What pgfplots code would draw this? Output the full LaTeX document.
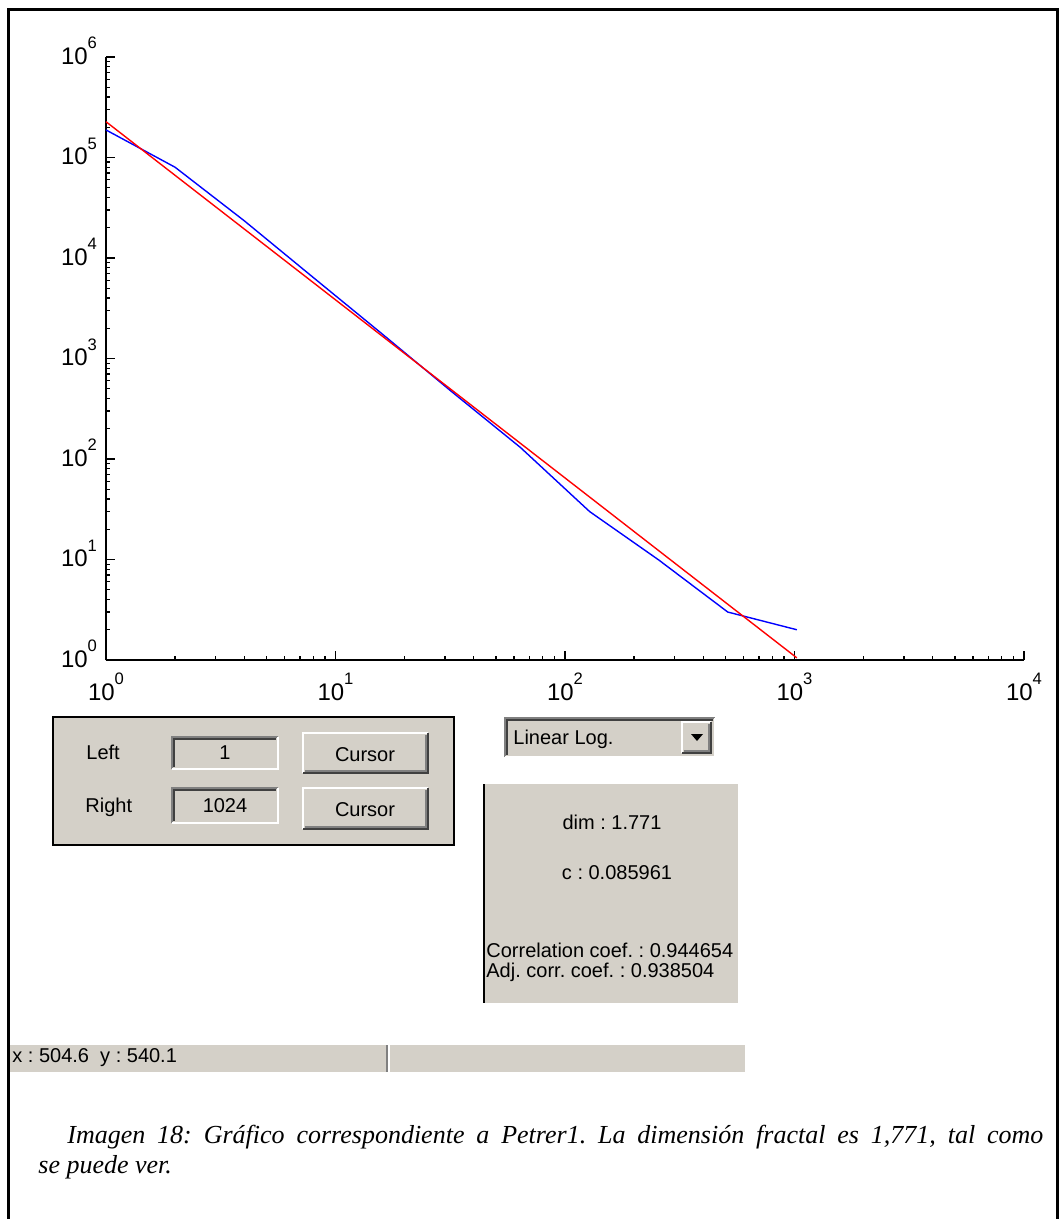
\documentclass[border=0pt]{standalone}
\usepackage{fontspec}
\setmainfont{Liberation Sans}
\newfontfamily\capfont{Liberation Serif}
\usepackage{pgfplots}
\pgfplotsset{compat=1.18}
\definecolor{guigray}{RGB}{212,208,200}
\definecolor{gdark}{RGB}{64,64,64}
\definecolor{gmid}{RGB}{128,128,128}
\newcommand{\gui}{\fontsize{10}{12}\selectfont}
\newcommand{\tp}[1]{10\raisebox{7.8pt}{\fontsize{8.3}{10}\selectfont #1}}
% sunken box x1 y1 x2 y2
\newcommand{\sunken}[4]{%
  \fill[guigray] (#1,#2) rectangle (#3,#4);
  \draw[line width=1pt, gmid] (#1,#4) -- (#1,#2) -- (#3,#2);
  \draw[line width=1pt, white] (#3,#2) -- (#3,#4) -- (#1,#4);
  \draw[line width=0.6pt, gdark] (#1+2,#4-2) -- (#1+2,#2+2) -- (#3-2,#2+2);
}
\newcommand{\raised}[4]{%
  \fill[guigray] (#1,#2) rectangle (#3,#4);
  \draw[line width=1pt, white] (#1,#4) -- (#1,#2) -- (#3,#2);
  \draw[line width=1pt, gdark] (#3,#2) -- (#3,#4) -- (#1,#4);
  \draw[line width=0.6pt, gmid] (#3-2,#2+2) -- (#3-2,#4-2) -- (#1+2,#4-2);
}
\begin{document}
\frenchspacing
\begin{tikzpicture}
\begin{scope}[x=0.5pt,y=-0.5pt]
\useasboundingbox (0,0) rectangle (1059,1219);
% outer frame
\draw[line width=1.5pt, black] (8,1225) -- (8,10) -- (1057,10) -- (1057,1225);
% left panel
\fill[guigray] (53,717) rectangle (454,845);
\draw[line width=1.1pt, black] (53,717) rectangle (454,845);
\node[anchor=west, inner sep=0] at (86,752) {\gui Left};
\node[anchor=west, inner sep=0] at (85,807) {\gui Right};
\sunken{172}{737}{278}{769}
\node[inner sep=0] at (225,753) {\gui 1};
\sunken{172}{788}{278}{823}
\node[inner sep=0] at (225,806) {\gui 1024};
\raised{303}{733}{428}{773}
\node[inner sep=0] at (365,755) {\gui Cursor};
\raised{303}{788}{428}{829}
\node[inner sep=0] at (365,810) {\gui Cursor};
% dropdown
\sunken{505}{718}{715}{757}
\node[anchor=west, inner sep=0] at (513,739) {\gui Linear Log.};
\raised{682}{722}{711}{753}
\fill[black] (691,734) -- (703,734) -- (697,741) -- cycle;
% info panel
\fill[guigray] (484,784) rectangle (738,1003);
\draw[line width=1pt, black] (484,784) -- (484,1003);
\node[inner sep=0] at (612,822) {\gui dim : 1.771};
\node[inner sep=0] at (617,873) {\gui c : 0.085961};
\node[anchor=west, inner sep=0] at (486,950) {\gui Correlation coef. : 0.944654};
\node[anchor=west, inner sep=0] at (486,972) {\gui Adj. corr. coef. : 0.938504};
% status bar
\fill[guigray] (10,1045) rectangle (745,1072);
\draw[line width=0.6pt, gmid] (387,1045) -- (387,1072);
\draw[line width=0.6pt, white] (389,1045) -- (389,1072);
\node[anchor=west, inner sep=0] at (12,1058) {\gui x : 504.6 \ y : 540.1};
% caption
\node[anchor=base west, inner sep=0] at (67,1143) {\capfont\itshape\fontsize{13}{15}\selectfont\makebox[488pt][s]{Imagen 18: Gráfico correspondiente a Petrer1. La dimensión fractal es 1,771, tal como}};
\node[anchor=base west, inner sep=0] at (38,1173) {\capfont\itshape\fontsize{13}{15}\selectfont se puede ver.};
\end{scope}
\begin{axis}[
  at={(53pt,-330pt)}, anchor=south west,
  scale only axis, width=459pt, height=301.5pt,
  xmode=log, ymode=log,
  xmin=1, xmax=10000, ymin=1, ymax=1000000,
  axis lines=left,
  axis line style={-, line width=0.75pt, black},
  tick align=inside,
  major tick length=4.5pt, minor tick length=2.2pt,
  tick style={black, line width=0.6pt},
  xtick={1,10,100,1000,10000},
  ytick={1,10,100,1000,10000,100000,1000000},
  xticklabels={\tp{0},\tp{1},\tp{2},\tp{3},\tp{4}},
  yticklabels={\tp{0},\tp{1},\tp{2},\tp{3},\tp{4},\tp{5},\tp{6}},
  tick label style={font=\fontsize{12}{14}\selectfont},
  xticklabel style={yshift=-3pt, anchor=north},
  yticklabel style={xshift=-1pt, yshift=3pt},
  clip=false,
]
\addplot[blue, line width=0.7pt] coordinates {
 (1,188000) (2,80000) (4,23500) (8,6400) (16,1750) (32,470) (64,130) (128,30) (256,9.9) (512,3.0) (1024,2.0)
};
\addplot[red, line width=0.7pt] coordinates {
 (1,227000) (1024,1.05)
};
\end{axis}
\end{tikzpicture}
\end{document}
